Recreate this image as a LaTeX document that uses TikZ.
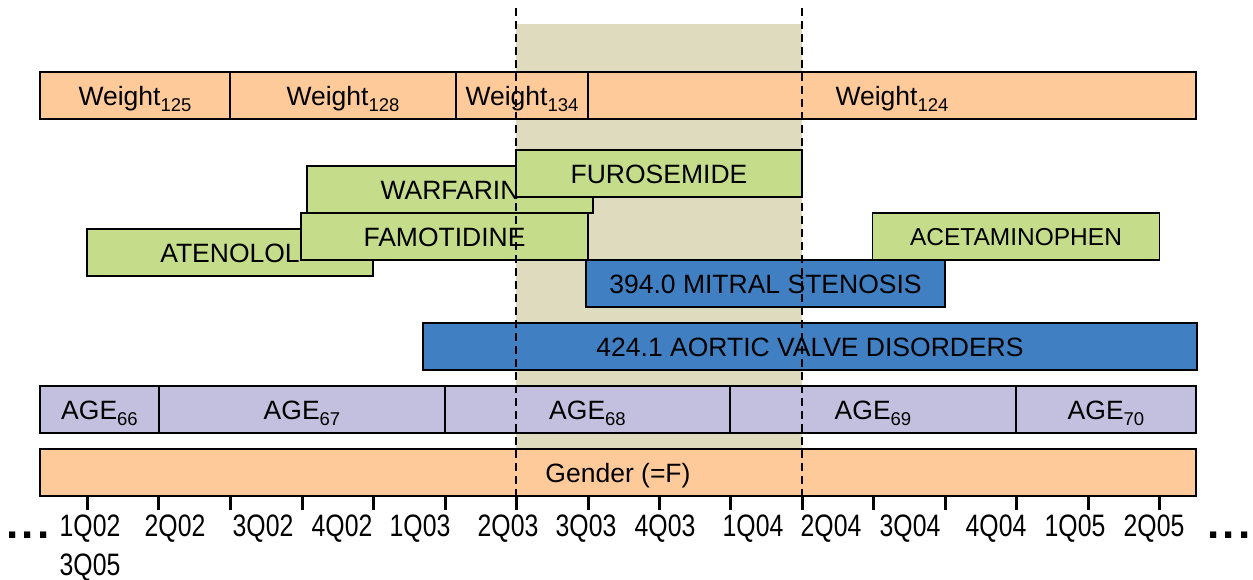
\documentclass[tikz,border=0pt]{standalone}
\usepackage{fontspec}
\setmainfont{Liberation Sans}
\newfontfamily\tickfont[FakeStretch=0.8]{Liberation Sans}
\definecolor{peach}{HTML}{FFCA99}
\definecolor{drug}{HTML}{C5DC8B}
\definecolor{diag}{HTML}{3F7FC2}
\definecolor{agec}{HTML}{C3BFDF}
\definecolor{tanwin}{HTML}{DFDBBE}
\newcommand\sbs[1]{\raisebox{-6pt}{\fontsize{18.5}{20}\selectfont #1}}
\newcommand\bbox[7]{\node[bar,fill=#6,minimum width={(#4-#2)*1pt},minimum height={(#5-#3)*1pt}] (#1) at ({(#2+#4)/2},{(#3+#5)/2}) {#7};}
\begin{document}
\begin{tikzpicture}[x=1pt,y=-1pt,
  bar/.style={draw=black,line width=1.5pt,inner sep=0pt,text height=19pt,text depth=0pt,font=\fontsize{26.5}{30}\selectfont},
  small/.style={font=\fontsize{24.5}{28}\selectfont,text height=17.5pt},
  vdash/.style={line width=2pt,dash pattern=on 8pt off 5pt},
  tick/.style={line width=3pt},
  qlab/.style={anchor=base,inner sep=0pt,font=\tickfont\fontsize{31}{34}\selectfont},
  dots/.style={inner sep=0pt,font=\fontsize{44}{44}\selectfont\bfseries}]
\useasboundingbox (0,0) rectangle (1253,579);
\fill[tanwin] (516,24) rectangle (802,449);
% weight row
\bbox{w1}{40}{72}{230}{119}{peach}{Weight\sbs{125}}
\bbox{w2}{230}{72}{456}{119}{peach}{Weight\sbs{128}}
\bbox{w3}{456}{72}{588}{119}{peach}{Weight\sbs{134}}
\bbox{w4}{588}{72}{1196}{119}{peach}{Weight\sbs{124}}
% drugs
\bbox{aten}{87}{229}{373}{276}{drug}{ATENOLOL}
\bbox{warf}{307}{166}{593}{213}{drug}{WARFARIN}
\bbox{famo}{301}{213}{588}{260}{drug}{FAMOTIDINE}
\bbox{furo}{516}{150}{802}{197}{drug}{FUROSEMIDE}
\node[bar,small,fill=drug,minimum width=287pt,minimum height=47pt] (acet) at (1016,236.5) {ACETAMINOPHEN};
% diagnoses
\bbox{mitral}{586}{260}{945}{307}{diag}{394.0 MITRAL STENOSIS}
\bbox{aortic}{423}{323}{1197}{370}{diag}{424.1 AORTIC VALVE DISORDERS}
% age row
\bbox{a66}{40}{386}{159}{433}{agec}{AGE\sbs{66}}
\bbox{a67}{159}{386}{445}{433}{agec}{AGE\sbs{67}}
\bbox{a68}{445}{386}{730}{433}{agec}{AGE\sbs{68}}
\bbox{a69}{730}{386}{1016}{433}{agec}{AGE\sbs{69}}
\bbox{a70}{1016}{386}{1196}{433}{agec}{AGE\sbs{70}}
% gender
\bbox{gender}{40}{449}{1196}{496}{peach}{Gender (=F)}
% dashed window
\coordinate (d1t) at (516,8); \coordinate (d1b) at (516,497);
\coordinate (d2t) at (802,8); \coordinate (d2b) at (802,497);
\draw[vdash] (d1t) -- (d1b);
\draw[vdash] (d2t) -- (d2b);
% ticks
\foreach \x in {87,158,230,302,373,445,516,588,659,730,802,873,945,1016,1088,1159}
  \draw[tick] (\x,497) -- (\x,510);
% quarter labels
\foreach \x/\t in {90/1Q02,175/2Q02,263/3Q02,342/4Q02,420/1Q03,508/2Q03,586/3Q03,665/4Q03,753/1Q04,831/2Q04,910/3Q04,996/4Q04,1075/1Q05,1154/2Q05}
  \node[qlab] (q\t) at (\x,536) {\t};
\node[qlab] (q3Q05) at (90,575) {3Q05};
\node[dots,anchor=base west] (dl) at (6,538) {.\kern3.5pt.\kern3.5pt.};
\node[dots,anchor=base east] (dr) at (1251,538) {.\kern3.5pt.\kern3.5pt.};
\end{tikzpicture}
\end{document}
